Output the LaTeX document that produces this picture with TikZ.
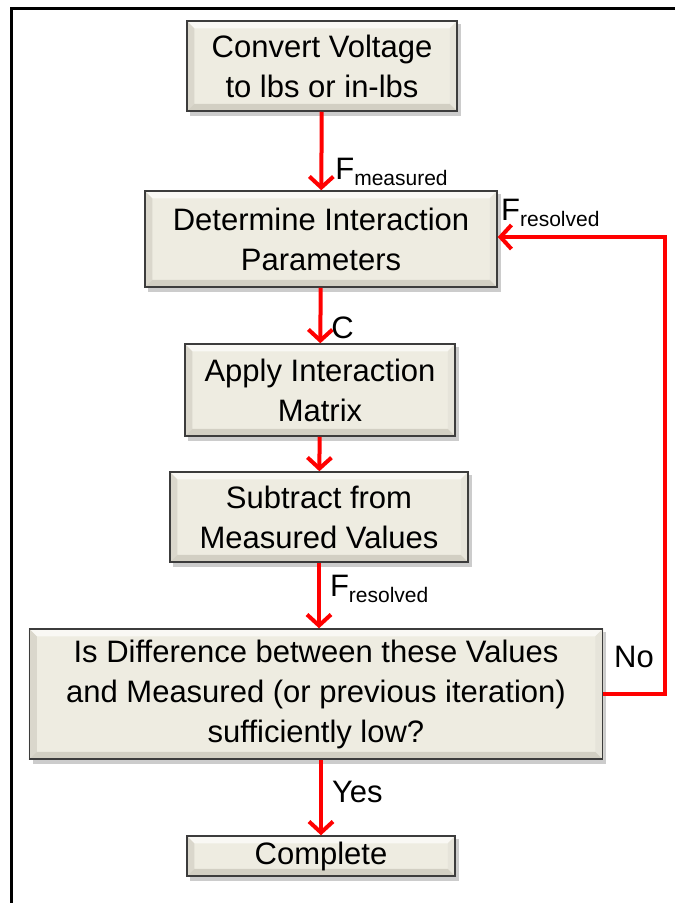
\documentclass[tikz,border=0pt]{standalone}
\usepackage{fontspec}
\setmainfont{Liberation Sans}
\usetikzlibrary{arrows.meta,calc,backgrounds}
\definecolor{boxtan}{HTML}{EEECE1}
\definecolor{bevtop}{HTML}{F9F8F4}
\definecolor{bevleft}{HTML}{DAD7CC}
\definecolor{bevright}{HTML}{E6E4DA}
\definecolor{bevbot}{HTML}{D2CFC3}
\definecolor{boxline}{HTML}{3C3C3C}
\newcommand{\Fsub}[1]{F{\fontsize{21}{21}\selectfont\raisebox{-6pt}{#1}}}

\begin{document}
\begin{tikzpicture}[x=1pt,y=-1pt,
	stepbox/.style={draw=boxline,line width=1.5pt,align=center,inner sep=0pt,font=\fontsize{31}{40}\selectfont},
	flow/.style={draw=red,line width=4pt,-{Straight Barb[length=11pt,width=24pt]}},
	lbl/.style={font=\fontsize{31}{31}\selectfont,inner sep=0pt,anchor=base west}]
	\useasboundingbox (0,0) rectangle (675,903);
	% frame
	\draw[line width=3pt] (11,903) -- (11,8) -- (675,8);
	% steps
	\node[stepbox,minimum width=270pt,minimum height=90pt] (convert) at (322,66) {Convert Voltage\\to lbs or in-lbs};
	\node[stepbox,minimum width=352pt,minimum height=96pt] (determine) at (321,239) {Determine Interaction\\Parameters};
	\node[stepbox,minimum width=270pt,minimum height=92pt] (apply) at (320,390) {Apply Interaction\\Matrix};
	\node[stepbox,minimum width=298pt,minimum height=90pt] (subtract) at (319,517) {Subtract from\\Measured Values};
	\node[stepbox,minimum width=573pt,minimum height=130pt] (check) at (316,694) {Is Difference between these Values\\and Measured (or previous iteration)\\sufficiently low?};
	\node[stepbox,minimum width=268pt,minimum height=40pt] (done) at (321,856) {Complete};
	% bevels
	\begin{scope}[on background layer]
		\foreach \bx in {convert,determine,apply,subtract,check,done}{
			\fill[gray!40] ($(\bx.north west)+(4,4)$) rectangle ($(\bx.south east)+(3,4)$);
			\fill[boxtan] (\bx.north west) rectangle (\bx.south east);
			\fill[bevtop] (\bx.north west) -- (\bx.north east) -- ($(\bx.north east)+(-8,8)$) -- ($(\bx.north west)+(8,8)$) -- cycle;
			\fill[bevleft] (\bx.north west) -- ($(\bx.north west)+(8,8)$) -- ($(\bx.south west)+(8,-8)$) -- (\bx.south west) -- cycle;
			\fill[bevright] (\bx.north east) -- ($(\bx.north east)+(-8,8)$) -- ($(\bx.south east)+(-8,-8)$) -- (\bx.south east) -- cycle;
			\fill[bevbot] (\bx.south west) -- ($(\bx.south west)+(8,-8)$) -- ($(\bx.south east)+(-8,-8)$) -- (\bx.south east) -- cycle;
		}
	\end{scope}
	% arrows
	\draw[flow] (convert) -- (determine) node[lbl,pos=.86,xshift=12pt] {\Fsub{measured}};
	\draw[flow] (determine) -- (apply) node[lbl,pos=.91,xshift=9pt] {C};
	\draw[flow] (apply) -- (subtract);
	\draw[flow] (subtract.south) -- (subtract.south |- check.north) node[lbl,pos=.52,xshift=9pt] {\Fsub{resolved}};
	\draw[flow] (check.south -| done.north) -- (done) node[lbl,pos=.56,xshift=9pt] {Yes};
	\coordinate (turn) at (665,237);
	\draw[flow] (check.east) -| (turn) -- (turn -| determine.east);
	\node[lbl] (no) at (614,667) {No};
	\node[lbl] (back) at (501,220) {\Fsub{resolved}};
\end{tikzpicture}
\end{document}
